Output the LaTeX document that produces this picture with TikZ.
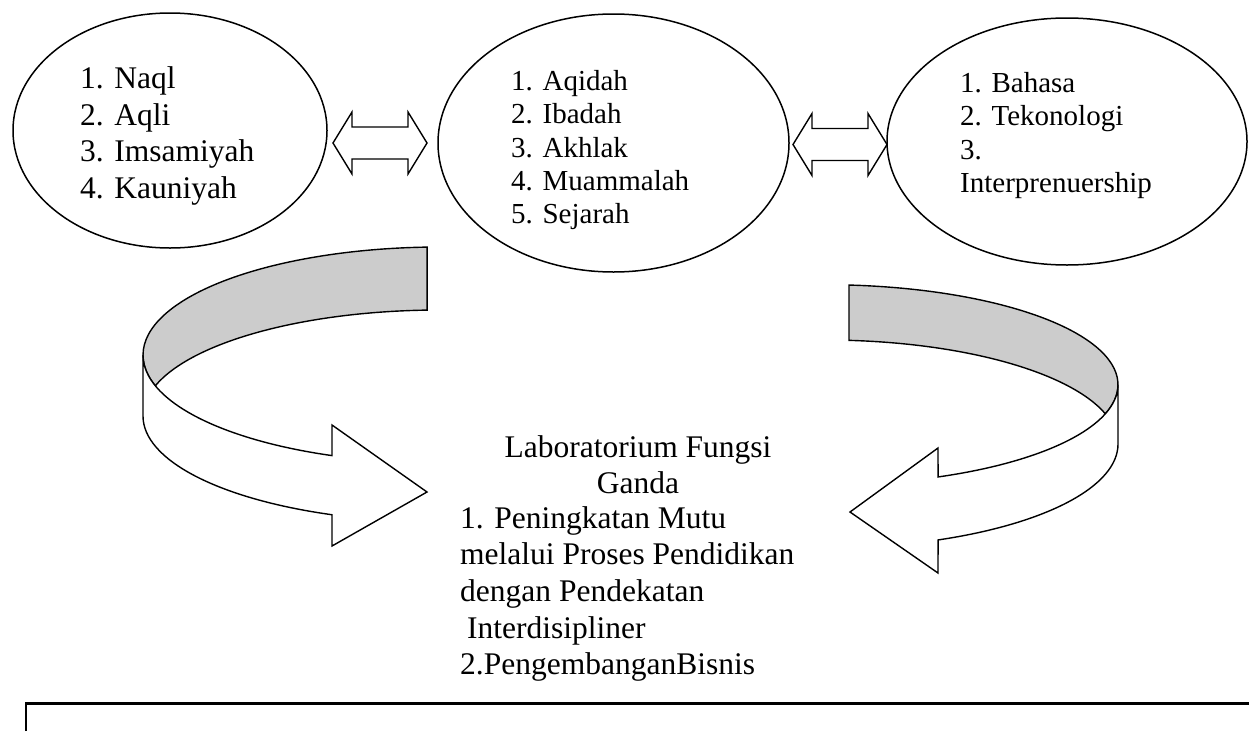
\documentclass[tikz,border=0pt]{standalone}
\usepackage{fontspec}
\setmainfont{Liberation Serif}
\usetikzlibrary{shapes.geometric}
\definecolor{bandgrey}{RGB}{204,204,204}
\tikzset{
  dblarrow/.pic={
    \draw[line width=1.4pt, line join=miter]
      (-47,0) -- (-28,-31) -- (-28,-16) -- (28,-16) -- (28,-31) -- (47,0)
      -- (28,31) -- (28,16) -- (-28,16) -- (-28,31) -- cycle;
  }
}
\begin{document}
\begin{tikzpicture}[x=1pt, y=-1pt,
  oval/.style={ellipse, draw, line width=1.5pt, inner sep=0pt},
  itemtext/.style={inner sep=0pt, align=left},
  bigtext/.style={font=\fontsize{31.5}{36.7}\selectfont},
  smalltext/.style={font=\fontsize{29}{33.3}\selectfont},
  band/.style={draw, line width=1.4pt, line join=miter, fill=bandgrey},
  frontside/.style={draw, line width=1.4pt, line join=miter, fill=white}]
\useasboundingbox (0,0) rectangle (1249,731);

% the three fields
\node[oval, minimum width=314pt, minimum height=235pt] (kiri) at (170,130.5) {};
\node[oval, minimum width=351pt, minimum height=258pt] (tengah) at (613.5,143) {};
\node[oval, minimum width=360pt, minimum height=247pt] (kanan) at (1067,141.5) {};

\node[itemtext, bigtext, anchor=north west] (listA) at (80,66.5)
  {1. Naql\\2. Aqli\\3. Imsamiyah\\4. Kauniyah};
\node[itemtext, smalltext, anchor=north west] (listB) at (511,70.2)
  {1. Aqidah\\2. Ibadah\\3. Akhlak\\4. Muammalah\\5. Sejarah};
\node[itemtext, smalltext, anchor=north west] (listC) at (960,72.2)
  {1. Bahasa\\2. Tekonologi\\3.\\Interprenuership};

% two-way links between the fields
\pic (linkAB) at (380,143) {dblarrow};
\pic (linkBC) at (840,144.5) {dblarrow};

% left curved ribbon arrow: inner (grey) back side, then white front with head
% top rim: centre (440,355), radii 297/108; bottom rim: centre (440,416), radii 297/106
\filldraw[band] ({440+297*cos(267.5)},{355+108*sin(267.5)})
  arc[start angle=267.5, end angle=163.44, x radius=297, y radius=108]
  arc[start angle=196.56, end angle=267.5, x radius=297, y radius=106] -- cycle;
\filldraw[frontside] (143,355)
  arc[start angle=180, end angle=111.32, x radius=297, y radius=108]
  -- (332,425) -- (427,492) -- (332,546)
  -- ({440+297*cos(111.32)},{416+106*sin(111.32)})
  arc[start angle=111.32, end angle=180, x radius=297, y radius=106] -- cycle;

% right curved ribbon arrow
% top rim: centre (825,384.7), radii 293/100; bottom rim: centre (825,444), radii 293/104
\filldraw[band] ({825+293*cos(274.7)},{384.7+100*sin(274.7)})
  arc[start angle=274.7, end angle=376.9, x radius=293, y radius=100]
  arc[start angle=343.1, end angle=274.7, x radius=293, y radius=104] -- cycle;
\filldraw[frontside] (1118,384.7)
  arc[start angle=0, end angle=67.3, x radius=293, y radius=100]
  -- (938,448) -- (850,512) -- (938,573)
  -- ({825+293*cos(67.3)},{444+104*sin(67.3)})
  arc[start angle=67.3, end angle=0, x radius=293, y radius=104] -- cycle;

% result
\node[inner sep=0pt, bigtext, align=center, anchor=north] (judul) at (638,435)
  {Laboratorium Fungsi\\Ganda};
\node[itemtext, bigtext, anchor=north west] (fungsi) at (460,506)
  {1. Peningkatan Mutu\\melalui Proses Pendidikan\\dengan Pendekatan\\\hspace{7pt}Interdisipliner\\2.PengembanganBisnis};

% frame below
\draw[line width=2.2pt] (26,731) -- (26,703.5) -- (1249,703.5);
\end{tikzpicture}
\end{document}
